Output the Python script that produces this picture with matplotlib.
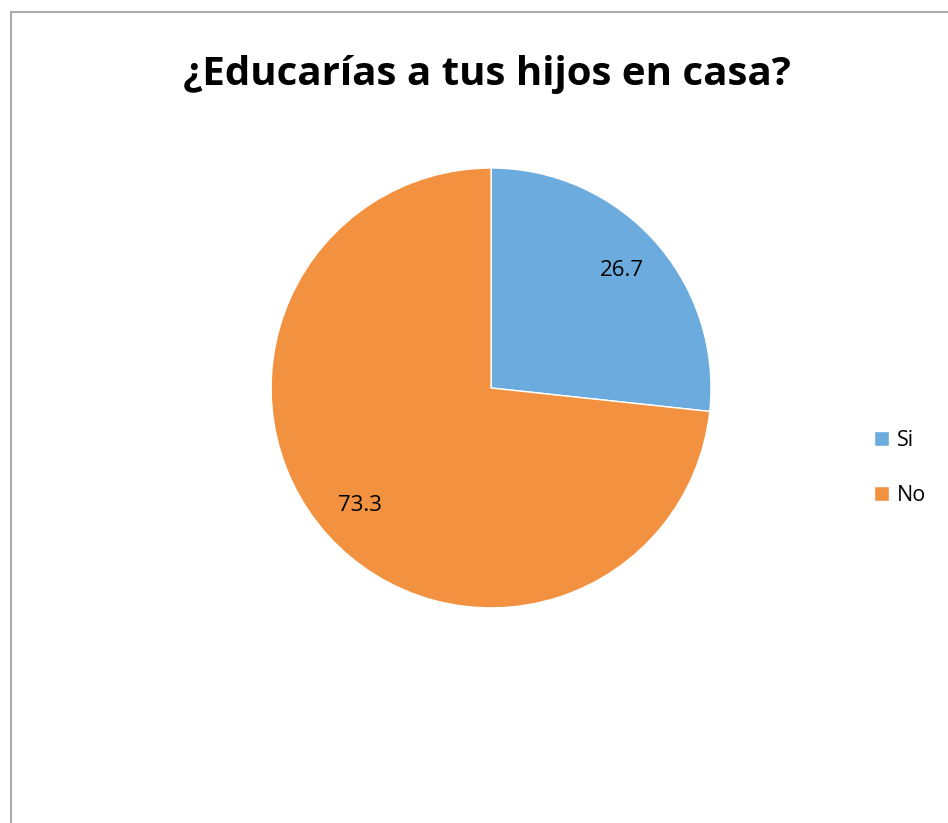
import matplotlib
matplotlib.use("Agg")
import matplotlib.pyplot as plt
from matplotlib.patches import Rectangle

title = "¿Educarías a tus hijos en casa?"
categories = ["Si", "No"]
values = [26.7, 73.3]
colors = ["#6BABDD", "#F29240"]

fig = plt.figure(figsize=(9.48, 8.23), dpi=100)
fig.patch.set_facecolor("white")

# outer chart border
fig.patches.append(Rectangle((10.5/948, -0.01), 1.0, 1 - 11.5/823 + 0.01,
                             transform=fig.transFigure, fill=False,
                             edgecolor="#ABABAB", linewidth=1.5))

ax = fig.add_axes([0.286, 0.2613, 0.464, 0.5346])
wedges, texts = ax.pie(values, colors=colors, startangle=90, counterclock=False,
                       labels=[f"{v}" for v in values], labeldistance=0.8,
                       wedgeprops=dict(edgecolor="white", linewidth=1),
                       textprops=dict(fontsize=16, family="Open Sans", color="black"))
for t in texts:
    t.set_ha("center")
    t.set_va("center")
ax.set_xlim(-1, 1)
ax.set_ylim(-1, 1)
ax.set_aspect("equal")

fig.text(487/948, 1 - 75/823, title, ha="center", va="center",
         fontsize=29, fontweight="bold", family="Open Sans")

leg = fig.legend(wedges, categories, loc="center left",
                 bbox_to_anchor=(855/948, 1 - 468/823), frameon=False,
                 prop=dict(family="Open Sans", size=15.5), handlelength=0.7,
                 handleheight=0.7, handletextpad=0.35, labelspacing=1.6)

fig.savefig("out.png", dpi=100)
